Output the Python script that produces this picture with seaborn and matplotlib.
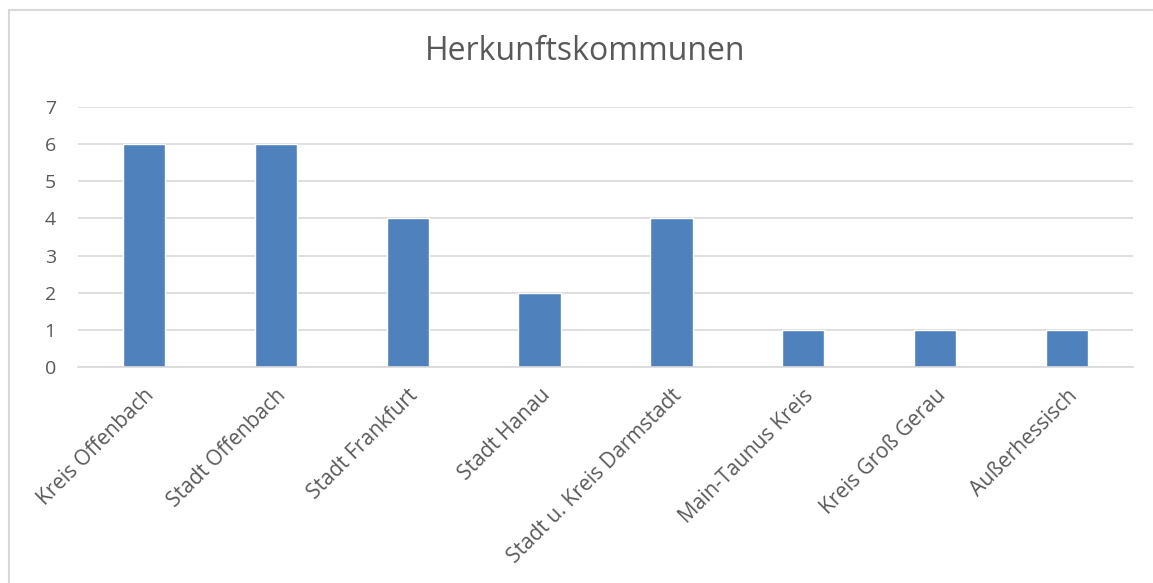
import matplotlib
matplotlib.use("Agg")
import matplotlib.pyplot as plt
import seaborn as sns
import pandas as pd
from matplotlib.lines import Line2D

categories = ["Kreis Offenbach", "Stadt Offenbach", "Stadt Frankfurt", "Stadt Hanau",
              "Stadt u. Kreis Darmstadt", "Main-Taunus Kreis", "Kreis Groß Gerau", "Außerhessisch"]
values = [6, 6, 4, 2, 4, 1, 1, 1]
yticks = [0, 1, 2, 3, 4, 5, 6, 7]
title = "Herkunftskommunen"

sns.set_theme(style="white")
plt.rcParams['font.family'] = ['Open Sans', 'DejaVu Sans']

df = pd.DataFrame({"cat": categories, "val": values})
W, H = 1153, 583
fig = plt.figure(figsize=(W / 100, H / 100), dpi=100)
ax = fig.add_axes([78 / W, 1 - 367 / H, (1133 - 78) / W, (367 - 107) / H])
sns.barplot(data=df, x="cat", y="val", color="#4F81BD", width=0.32, ax=ax, saturation=1)
ax.set_ylim(0, 7)
ax.set_xlim(-0.5, len(categories) - 0.5)
ax.set_yticks(yticks)
ax.yaxis.grid(True, color="#D9D9D9", linewidth=1.2)
ax.set_axisbelow(True)
for s in ["left", "right", "top"]:
    ax.spines[s].set_visible(False)
ax.spines["bottom"].set_color("#D9D9D9")
ax.spines["bottom"].set_linewidth(1.2)
ax.set_xlabel("")
ax.set_ylabel("")
ax.tick_params(axis="both", length=0, colors="#595959", labelsize=14)
ax.tick_params(axis="x", labelsize=15, pad=13)
ax.tick_params(axis="y", pad=16)
ax.set_xticks(range(len(categories)))
ax.set_xticklabels(categories, rotation=45, ha="right", va="top", rotation_mode="anchor")
fig.text(585 / W, 1 - 52 / H, title, ha="center", va="center", fontsize=23, color="#595959")
# chart frame (top and left edges visible)
fig.add_artist(Line2D([9 / W, 1.0], [1 - 9.5 / H, 1 - 9.5 / H], transform=fig.transFigure,
                      color="#D9D9D9", linewidth=1.5))
fig.add_artist(Line2D([9 / W, 9 / W], [0, 1 - 9.5 / H], transform=fig.transFigure,
                      color="#D9D9D9", linewidth=1.5))
fig.savefig("out.png", dpi=100)
